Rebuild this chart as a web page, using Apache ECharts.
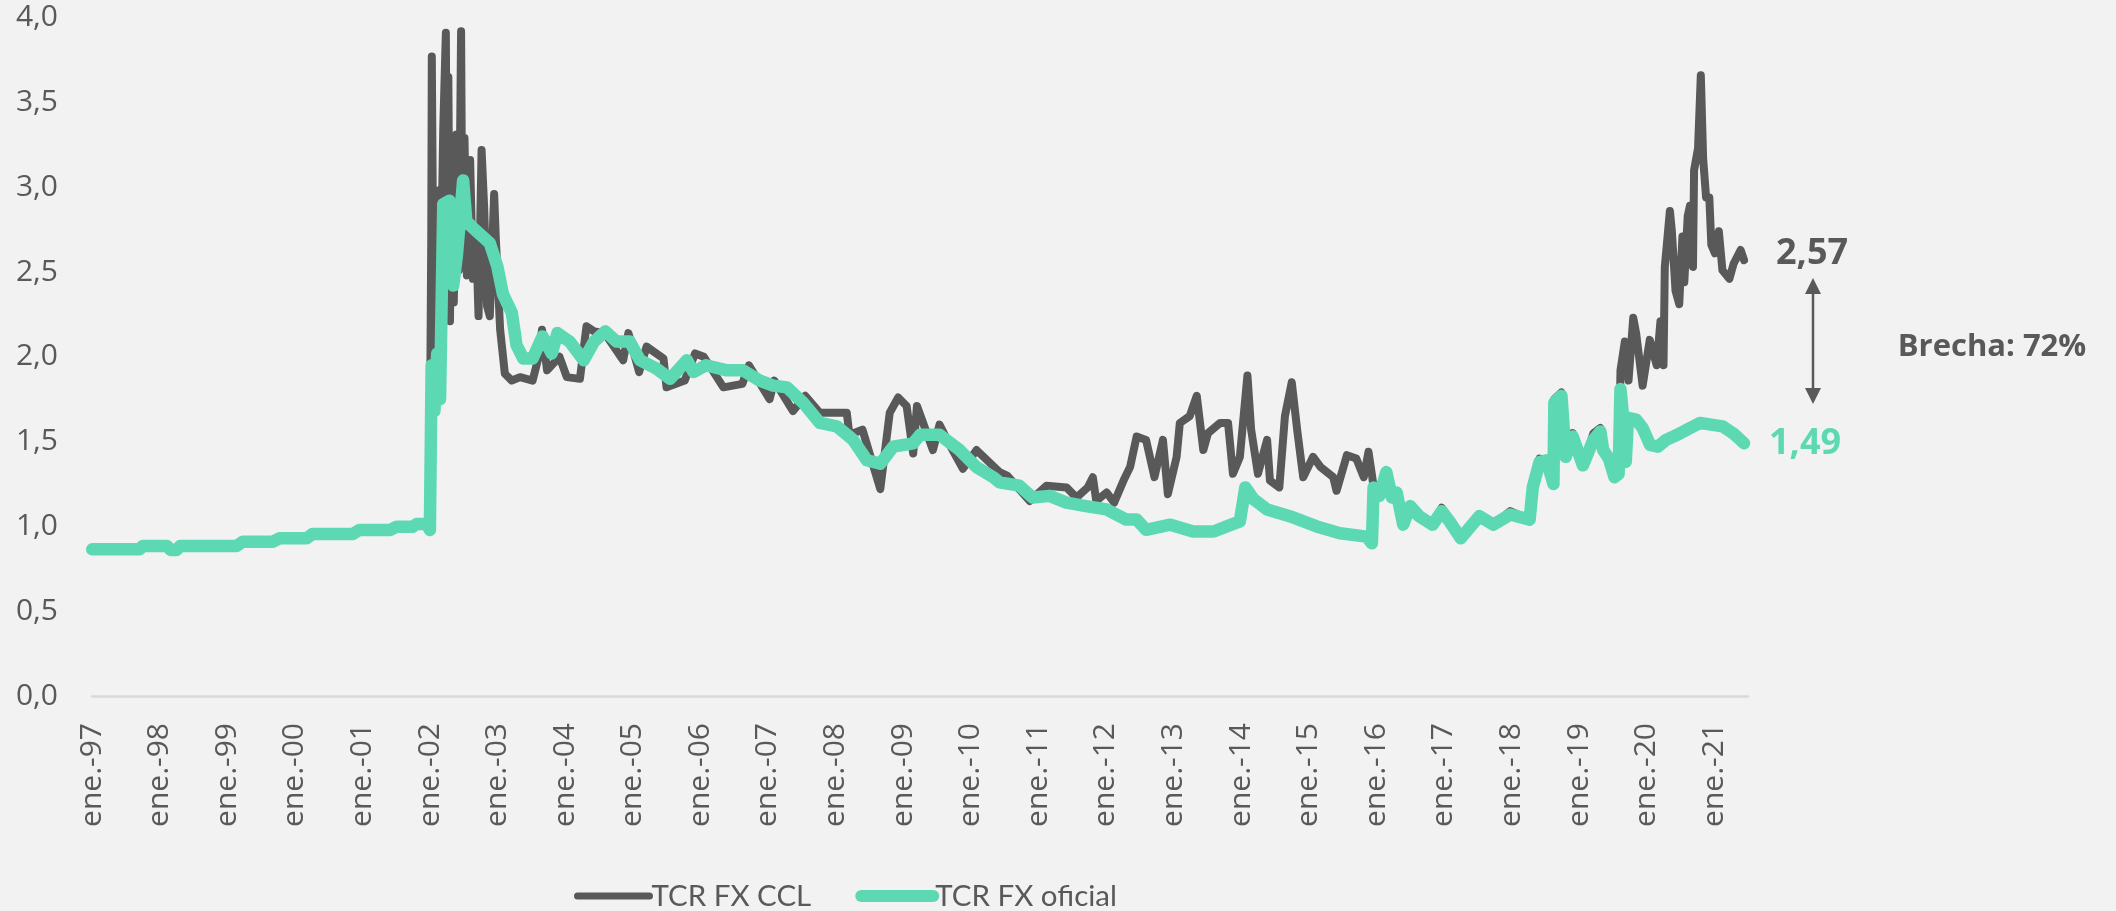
<!DOCTYPE html>
<html>
<head>
<meta charset="utf-8">
<title>TCR FX CCL vs oficial</title>
<script src="https://cdn.jsdelivr.net/npm/echarts@6/dist/echarts.min.js"></script>
<style>
  html, body { margin: 0; padding: 0; background: #f2f2f2; }
  #chart { width: 2116px; height: 911px; }
</style>
</head>
<body>
<div id="chart"></div>
<script>
// tipo de cambio real, base 1 = dic-01 aprox
const fechasOficial = [
  '1997-01-02', '1997-09-15', '1997-10-01', '1998-02-10', '1998-03-01', '1998-04-01', '1998-04-20',
  '1999-02-20', '1999-03-25', '1999-09-05', '1999-10-10', '2000-03-05', '2000-04-05', '2000-11-10',
  '2000-12-15', '2001-05-30', '2001-07-05', '2001-09-30', '2001-10-20', '2001-12-15', '2001-12-31',
  '2002-01-10', '2002-01-25', '2002-02-10', '2002-02-25', '2002-03-12', '2002-04-15', '2002-05-05',
  '2002-05-25', '2002-06-28', '2002-07-15', '2002-08-20', '2002-09-30', '2002-11-20', '2002-12-31',
  '2003-01-30', '2003-03-17', '2003-04-12', '2003-05-18', '2003-07-08', '2003-08-31', '2003-10-20',
  '2003-11-20', '2004-01-25', '2004-04-10', '2004-06-05', '2004-08-05', '2004-10-05', '2004-12-15',
  '2005-02-10', '2005-05-08', '2005-07-20', '2005-10-20', '2005-11-25', '2006-02-01', '2006-05-22',
  '2006-08-18', '2006-11-18', '2007-01-30', '2007-04-12', '2007-07-08', '2007-10-08', '2008-01-08',
  '2008-04-05', '2008-06-18', '2008-08-30', '2008-11-08', '2009-02-25', '2009-04-01', '2009-07-15',
  '2009-11-02', '2010-02-02', '2010-05-01', '2010-06-05', '2010-09-20', '2010-12-01', '2011-03-01',
  '2011-06-01', '2011-09-15', '2012-01-05', '2012-04-20', '2012-06-15', '2012-08-05', '2012-12-15',
  '2013-04-15', '2013-08-05', '2013-10-15', '2013-12-25', '2014-01-24', '2014-03-08', '2014-05-20',
  '2014-09-20', '2015-02-14', '2015-06-18', '2015-11-10', '2015-12-08', '2015-12-17', '2016-01-18',
  '2016-02-25', '2016-03-25', '2016-04-20', '2016-05-25', '2016-07-01', '2016-08-20', '2016-11-01',
  '2016-12-20', '2017-02-01', '2017-04-01', '2017-07-10', '2017-09-25', '2017-12-25', '2018-04-08',
  '2018-04-25', '2018-06-01', '2018-07-08', '2018-08-15', '2018-08-20', '2018-09-28', '2018-10-20',
  '2018-11-28', '2019-01-22', '2019-03-18', '2019-04-25', '2019-05-10', '2019-06-10', '2019-07-10',
  '2019-08-02', '2019-08-12', '2019-08-30', '2019-09-10', '2019-09-22', '2019-11-05', '2019-12-10',
  '2020-01-20', '2020-03-01', '2020-04-15', '2020-06-15', '2020-08-05', '2020-10-15', '2021-02-15',
  '2021-04-10', '2021-05-01', '2021-06-10'
]
const tcrOficial = [
  0.865, 0.865, 0.884, 0.884, 0.861, 0.861, 0.884,
  0.884, 0.910, 0.910, 0.930, 0.930, 0.955, 0.955,
  0.979, 0.979, 0.998, 0.998, 1.014, 1.014, 0.979,
  1.95, 1.68, 2.02, 1.75, 2.90, 2.92, 2.42,
  2.60, 3.04, 2.80, 2.76, 2.72, 2.67, 2.53,
  2.37, 2.26, 2.07, 1.99, 1.99, 2.12, 2.02,
  2.14, 2.09, 1.98, 2.09, 2.15, 2.09, 2.09,
  1.98, 1.93, 1.87, 1.98, 1.91, 1.95, 1.92,
  1.92, 1.86, 1.83, 1.82, 1.73, 1.61, 1.59,
  1.51, 1.39, 1.37, 1.47, 1.49, 1.54, 1.54,
  1.45, 1.35, 1.29, 1.26, 1.24, 1.17, 1.18,
  1.14, 1.12, 1.10, 1.04, 1.04, 0.98, 1.01,
  0.97, 0.97, 1.00, 1.03, 1.23, 1.16, 1.10,
  1.06, 1.00, 0.96, 0.94, 0.90, 1.23, 1.18,
  1.32, 1.17, 1.20, 1.01, 1.12, 1.06, 1.01,
  1.09, 1.03, 0.93, 1.06, 1.01, 1.07, 1.04,
  1.23, 1.38, 1.39, 1.25, 1.73, 1.77, 1.41,
  1.53, 1.36, 1.51, 1.56, 1.45, 1.40, 1.29,
  1.31, 1.81, 1.60, 1.38, 1.64, 1.63, 1.58,
  1.48, 1.47, 1.51, 1.54, 1.57, 1.61, 1.59,
  1.55, 1.53, 1.49
]

const fechasCCL = [
  '1997-01-02', '1997-09-15', '1997-10-01', '1998-02-10', '1998-03-01', '1998-04-01', '1998-04-20',
  '1999-02-20', '1999-03-25', '1999-09-05', '1999-10-10', '2000-03-05', '2000-04-05', '2000-11-10',
  '2000-12-15', '2001-05-30', '2001-07-05', '2001-09-30', '2001-10-20', '2001-12-15', '2001-12-28',
  '2002-01-08', '2002-01-11', '2002-01-16', '2002-01-25', '2002-02-05', '2002-02-15', '2002-02-28',
  '2002-03-12', '2002-03-26', '2002-04-02', '2002-04-09', '2002-04-18', '2002-04-26', '2002-05-08',
  '2002-05-22', '2002-06-05', '2002-06-17', '2002-06-24', '2002-07-05', '2002-07-18', '2002-08-05',
  '2002-08-20', '2002-09-10', '2002-09-20', '2002-10-06', '2002-10-20', '2002-11-05', '2002-11-20',
  '2002-12-13', '2002-12-22', '2003-01-15', '2003-02-10', '2003-03-17', '2003-05-01', '2003-07-08',
  '2003-08-10', '2003-08-28', '2003-09-25', '2003-12-01', '2004-01-10', '2004-03-20', '2004-04-25',
  '2004-06-05', '2004-08-01', '2004-11-10', '2004-12-08', '2005-02-05', '2005-03-15', '2005-06-15',
  '2005-07-01', '2005-10-08', '2005-12-03', '2006-01-20', '2006-05-04', '2006-08-15', '2006-09-20',
  '2007-01-10', '2007-02-05', '2007-05-15', '2007-07-20', '2007-10-08', '2008-03-01', '2008-03-15',
  '2008-05-25', '2008-08-30', '2008-10-20', '2008-12-05', '2009-01-20', '2009-02-25', '2009-03-15',
  '2009-06-10', '2009-07-15', '2009-09-10', '2009-11-20', '2010-02-02', '2010-06-05', '2010-07-15',
  '2010-11-15', '2011-02-15', '2011-06-01', '2011-07-25', '2011-09-25', '2011-10-22', '2011-11-10',
  '2012-01-05', '2012-02-15', '2012-04-05', '2012-05-10', '2012-06-15', '2012-08-05', '2012-09-20',
  '2012-11-05', '2012-12-01', '2013-01-18', '2013-02-05', '2013-03-28', '2013-05-05', '2013-06-10',
  '2013-07-05', '2013-09-10', '2013-10-22', '2013-11-18', '2013-12-25', '2014-02-05', '2014-02-25',
  '2014-04-01', '2014-05-20', '2014-06-05', '2014-07-25', '2014-08-25', '2014-10-01', '2014-11-02',
  '2014-12-02', '2015-01-25', '2015-03-05', '2015-05-12', '2015-05-30', '2015-07-25', '2015-09-15',
  '2015-10-25', '2015-11-20', '2015-12-10', '2015-12-17', '2016-01-18', '2016-02-25', '2016-03-25',
  '2016-04-20', '2016-05-25', '2016-07-01', '2016-08-20', '2016-11-01', '2016-12-20', '2017-02-01',
  '2017-04-01', '2017-07-10', '2017-09-25', '2017-12-25', '2018-04-08', '2018-04-25', '2018-06-01',
  '2018-07-08', '2018-08-15', '2018-08-20', '2018-09-28', '2018-10-20', '2018-11-28', '2019-01-22',
  '2019-03-18', '2019-04-25', '2019-05-10', '2019-06-10', '2019-07-10', '2019-08-02', '2019-08-12',
  '2019-09-05', '2019-09-25', '2019-10-20', '2019-11-05', '2019-12-10', '2020-01-18', '2020-02-25',
  '2020-03-15', '2020-04-01', '2020-04-08', '2020-05-05', '2020-05-15', '2020-06-05', '2020-06-25',
  '2020-07-12', '2020-07-22', '2020-08-10', '2020-08-22', '2020-09-08', '2020-09-14', '2020-10-05',
  '2020-10-20', '2020-11-02', '2020-11-18', '2020-12-05', '2020-12-16', '2021-01-05', '2021-01-26',
  '2021-02-15', '2021-03-22', '2021-04-15', '2021-05-22', '2021-06-10'
]
const tcrCCL = [
  0.865, 0.865, 0.884, 0.884, 0.861, 0.861, 0.884,
  0.884, 0.910, 0.910, 0.930, 0.930, 0.955, 0.955,
  0.979, 0.979, 0.998, 0.998, 1.014, 1.014, 1.00,
  2.70, 3.77, 2.95, 2.98, 2.06, 2.98, 2.40,
  3.35, 3.91, 2.55, 3.65, 2.21, 3.30, 2.32,
  3.31, 2.51, 3.92, 2.60, 3.29, 2.48, 3.16,
  2.46, 2.60, 2.24, 3.22, 2.88, 2.30, 2.24,
  2.96, 2.70, 2.16, 1.90, 1.86, 1.88, 1.86,
  2.00, 2.16, 1.92, 2.00, 1.88, 1.87, 2.18,
  2.15, 2.14, 1.98, 2.14, 1.91, 2.06, 1.99,
  1.82, 1.86, 2.02, 2.00, 1.82, 1.84, 1.95,
  1.75, 1.86, 1.68, 1.77, 1.67, 1.67, 1.54,
  1.57, 1.22, 1.67, 1.76, 1.71, 1.43, 1.71,
  1.45, 1.60, 1.48, 1.34, 1.45, 1.32, 1.30,
  1.15, 1.24, 1.23, 1.17, 1.23, 1.29, 1.15,
  1.20, 1.14, 1.27, 1.35, 1.53, 1.51, 1.29,
  1.51, 1.19, 1.41, 1.61, 1.65, 1.77, 1.45,
  1.55, 1.61, 1.61, 1.31, 1.41, 1.89, 1.57,
  1.31, 1.51, 1.27, 1.23, 1.65, 1.85, 1.55,
  1.29, 1.41, 1.35, 1.29, 1.21, 1.42, 1.40,
  1.29, 1.44, 1.29, 1.23, 1.18, 1.33, 1.17,
  1.20, 1.01, 1.12, 1.06, 1.01, 1.11, 1.03,
  0.93, 1.06, 1.01, 1.09, 1.04, 1.23, 1.40,
  1.39, 1.25, 1.75, 1.79, 1.41, 1.55, 1.36,
  1.55, 1.58, 1.45, 1.40, 1.29, 1.31, 1.92,
  2.09, 1.86, 2.23, 2.14, 1.83, 2.10, 1.95,
  2.21, 1.95, 2.53, 2.86, 2.75, 2.39, 2.31,
  2.71, 2.44, 2.83, 2.89, 2.53, 3.10, 3.23,
  3.66, 3.17, 2.94, 2.94, 2.66, 2.61, 2.74,
  2.51, 2.46, 2.55, 2.63, 2.57
]

const nombres = ['TCR FX CCL', 'TCR FX oficial']
const gris = '#595959'
const verde = '#5cd9b3'

// fecha 'aaaa-mm-dd' -> año decimal para el eje
function aAnio(f) {
  const p = f.split('-').map(Number)
  return p[0] + (p[1] - 1) / 12 + (p[2] - 1) / 365
}
function coma(v, dec) {
  return v.toFixed(dec).replace('.', ',')
}

const serieCCL = fechasCCL.map((f, i) => [aAnio(f), tcrCCL[i]])
const serieOficial = fechasOficial.map((f, i) => [aAnio(f), tcrOficial[i]])
const ultCCL = tcrCCL[tcrCCL.length - 1]
const ultOficial = tcrOficial[tcrOficial.length - 1]
const brecha = Math.round((ultCCL / ultOficial - 1) * 100)

const chart = echarts.init(document.getElementById('chart'))
chart.setOption({
  backgroundColor: '#f2f2f2',
  animation: false,
  grid: {
    left: 92,
    right: 368,
    top: 17.6,
    bottom: 215
  },
  legend: {
    left: 574,
    top: 881,
    padding: 0,
    itemWidth: 72,
    itemHeight: 14,
    itemGap: 44,
    textStyle: {
      color: gris,
      fontSize: 29.5,
      fontFamily: 'Lato',
      padding: [0, 0, 0, -3]
    },
    data: [
      { name: nombres[0], lineStyle: { width: 7, cap: 'round' }, itemStyle: { opacity: 0 } },
      { name: nombres[1], lineStyle: { width: 12, cap: 'round' }, itemStyle: { opacity: 0 } }
    ]
  },
  xAxis: {
    type: 'value',
    min: 1997,
    max: 2021.5,
    interval: 1,
    splitLine: { show: false },
    axisTick: { show: false },
    axisLine: {
      onZero: false,
      lineStyle: { color: '#d9d9d9', width: 2.5 }
    },
    axisLabel: {
      rotate: 90,
      margin: 27,
      padding: [10, 0, 0, 0],
      color: gris,
      fontSize: 30,
      fontFamily: 'Open Sans',
      showMaxLabel: false,
      formatter: v => 'ene.-' + String(Math.round(v)).slice(-2)
    }
  },
  yAxis: {
    type: 'value',
    min: 0,
    max: 4,
    interval: 0.5,
    splitLine: { show: false },
    axisTick: { show: false },
    axisLine: { show: false },
    axisLabel: {
      margin: 34,
      color: gris,
      fontSize: 30,
      fontFamily: 'Open Sans',
      formatter: v => coma(v, 1)
    }
  },
  series: [
    {
      name: nombres[0],
      type: 'line',
      data: serieCCL,
      symbol: 'none',
      color: gris,
      lineStyle: { color: gris, width: 8, cap: 'round', join: 'round' },
      endLabel: {
        show: true,
        distance: 32,
        offset: [0, -6],
        color: gris,
        fontSize: 36,
        fontWeight: 'bold',
        fontFamily: 'Open Sans',
        formatter: p => coma(p.value[1], 2)
      }
    },
    {
      name: nombres[1],
      type: 'line',
      data: serieOficial,
      symbol: 'none',
      color: verde,
      lineStyle: { color: verde, width: 12.5, cap: 'round', join: 'round' },
      endLabel: {
        show: true,
        distance: 25,
        offset: [0, 0],
        color: verde,
        fontSize: 36,
        fontWeight: 'bold',
        fontFamily: 'Open Sans',
        formatter: p => coma(p.value[1], 2)
      }
    }
  ],
  graphic: [
    // flecha doble entre las dos series
    {
      type: 'line',
      shape: { x1: 1813, y1: 290, x2: 1813, y2: 392 },
      style: { stroke: gris, lineWidth: 2.5 }
    },
    {
      type: 'polygon',
      shape: { points: [[1813, 278], [1805, 294], [1821, 294]] },
      style: { fill: gris }
    },
    {
      type: 'polygon',
      shape: { points: [[1813, 404], [1805, 388], [1821, 388]] },
      style: { fill: gris }
    },
    {
      type: 'text',
      x: 1992,
      y: 347,
      style: {
        text: 'Brecha: ' + brecha + '%',
        fill: gris,
        font: "bold 31px 'Open Sans'",
        align: 'center',
        verticalAlign: 'middle'
      }
    }
  ]
})
</script>
</body>
</html>
